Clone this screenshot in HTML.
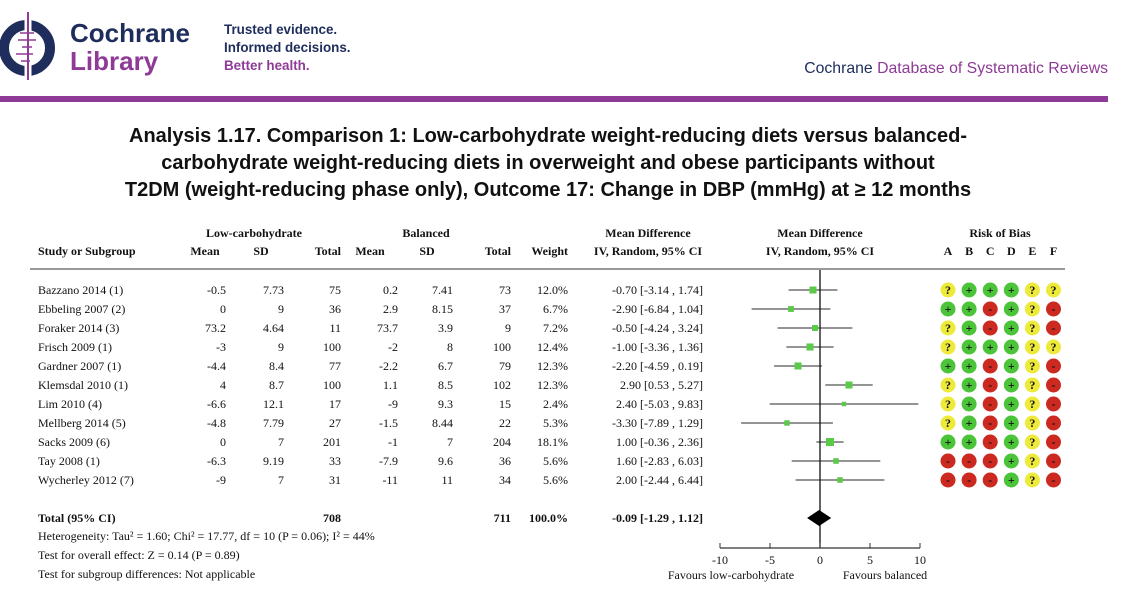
<!DOCTYPE html>
<html><head><meta charset="utf-8"><style>
body{margin:0;background:#fff;width:1125px;height:609px;overflow:hidden}
svg{display:block}
.s{font-family:"Liberation Serif",serif;font-size:12px;fill:#111}
.b{font-weight:bold}
</style></head><body>
<svg width="1125" height="609" viewBox="0 0 1125 609">
<g>
<circle cx="27" cy="48" r="23" fill="none" stroke="#1e2d5c" stroke-width="10"/>
<line x1="28" y1="12" x2="28" y2="80" stroke="#fff" stroke-width="7"/>
<line x1="28" y1="12" x2="28" y2="80" stroke="#8e3a96" stroke-width="2"/>
<g stroke="#8e3a96" stroke-width="1.5"><line x1="20" y1="33" x2="34" y2="33"/><line x1="18" y1="40" x2="36" y2="40"/><line x1="22" y1="47" x2="32" y2="47"/><line x1="16" y1="54" x2="33" y2="54"/><line x1="21" y1="61" x2="30" y2="61"/></g>
<text x="70" y="42" font-family="Liberation Sans,sans-serif" font-size="26" font-weight="bold" fill="#1e2d5c">Cochrane</text>
<text x="70" y="70" font-family="Liberation Sans,sans-serif" font-size="26" font-weight="bold" fill="#8e3a96">Library</text>
</g>
<g font-family="Liberation Sans,sans-serif" font-size="13.4" font-weight="bold">
<text x="224" y="34" fill="#1e2d5c">Trusted evidence.</text>
<text x="224" y="52" fill="#1e2d5c">Informed decisions.</text>
<text x="224" y="70" fill="#8e3a96">Better health.</text>
</g>
<text x="1108" y="73" text-anchor="end" font-family="Liberation Sans,sans-serif" font-size="15.8"><tspan fill="#1e2d5c">Cochrane</tspan><tspan fill="#8e3a96"> Database of Systematic Reviews</tspan></text>
<rect x="0" y="96" width="1108" height="6" fill="#8e3a96"/>
<g font-family="Liberation Sans,sans-serif" font-size="20" font-weight="bold" fill="#111" text-anchor="middle">
<text x="548" y="142">Analysis 1.17.  Comparison 1: Low-carbohydrate weight-reducing diets versus balanced-</text>
<text x="548" y="169">carbohydrate weight-reducing diets in overweight and obese participants without</text>
<text x="548" y="196">T2DM (weight-reducing phase only), Outcome 17: Change in DBP (mmHg) at ≥ 12 months</text>
</g>
<g class="s b">
<text x="254" y="237" text-anchor="middle">Low-carbohydrate</text>
<text x="426" y="237" text-anchor="middle">Balanced</text>
<text x="648" y="237" text-anchor="middle">Mean Difference</text>
<text x="820" y="237" text-anchor="middle">Mean Difference</text>
<text x="1000" y="237" text-anchor="middle">Risk of Bias</text>
<text x="38" y="255">Study or Subgroup</text>
<text x="205" y="255" text-anchor="middle">Mean</text>
<text x="261" y="255" text-anchor="middle">SD</text>
<text x="341" y="255" text-anchor="end">Total</text>
<text x="370" y="255" text-anchor="middle">Mean</text>
<text x="427" y="255" text-anchor="middle">SD</text>
<text x="511" y="255" text-anchor="end">Total</text>
<text x="568" y="255" text-anchor="end">Weight</text>
<text x="648" y="255" text-anchor="middle">IV, Random, 95% CI</text>
<text x="820" y="255" text-anchor="middle">IV, Random, 95% CI</text>
</g>
<line x1="30" y1="269" x2="1065" y2="269" stroke="#999" stroke-width="2"/>
<g id="rows"></g>
<g id="plot"></g>
<g class="s">
<text x="38" y="522" class="b">Total (95% CI)</text>
<text x="341" y="522" text-anchor="end" class="b">708</text>
<text x="511" y="522" text-anchor="end" class="b">711</text>
<text x="568" y="522" text-anchor="end" class="b">100.0%</text>
<text x="703" y="522" text-anchor="end" class="b">-0.09 [-1.29 , 1.12]</text>
<text x="38" y="540">Heterogeneity: Tau² = 1.60; Chi² = 17.77, df = 10 (P = 0.06); I² = 44%</text>
<text x="38" y="559">Test for overall effect: Z = 0.14 (P = 0.89)</text>
<text x="38" y="578">Test for subgroup differences: Not applicable</text>
<text x="731" y="579" text-anchor="middle">Favours low-carbohydrate</text>
<text x="885" y="579" text-anchor="middle">Favours balanced</text>
</g>
<script>
const studies=["Bazzano 2014 (1)","Ebbeling 2007 (2)","Foraker 2014 (3)","Frisch 2009 (1)","Gardner 2007 (1)","Klemsdal 2010 (1)","Lim 2010 (4)","Mellberg 2014 (5)","Sacks 2009 (6)","Tay 2008 (1)","Wycherley 2012 (7)"];
const meanL=["-0.5","0","73.2","-3","-4.4","4","-6.6","-4.8","0","-6.3","-9"];
const sdL=["7.73","9","4.64","9","8.4","8.7","12.1","7.79","7","9.19","7"];
const totL=[75,36,11,100,77,100,17,27,201,33,31];
const meanB=["0.2","2.9","73.7","-2","-2.2","1.1","-9","-1.5","-1","-7.9","-11"];
const sdB=["7.41","8.15","3.9","8","6.7","8.5","9.3","8.44","7","9.6","11"];
const totB=[73,37,9,100,79,102,15,22,204,36,34];
const weights=[12.0,6.7,7.2,12.4,12.3,12.3,2.4,5.3,18.1,5.6,5.6];
const md=[-0.70,-2.90,-0.50,-1.00,-2.20,2.90,2.40,-3.30,1.00,1.60,2.00];
const lo=[-3.14,-6.84,-4.24,-3.36,-4.59,0.53,-5.03,-7.89,-0.36,-2.83,-2.44];
const hi=[1.74,1.04,3.24,1.36,0.19,5.27,9.83,1.29,2.36,6.03,6.44];
const rob=["?+++??","++-+?-","?+-+?-","?+++??","++-+?-","?+-+?-","?+-+?-","?+-+?-","++-+?-","---+?-","---+?-"];
const pooled={md:-0.09,lo:-1.29,hi:1.12};
const ticks=[-10,-5,0,5,10];
const robLetters=["A","B","C","D","E","F"];
const NS="http://www.w3.org/2000/svg";
const X=v=>820+v*10;
const rowY=i=>290+i*19;
const robX=j=>948+j*21.1;
function el(t,a,p){const e=document.createElementNS(NS,t);for(const k in a)e.setAttribute(k,a[k]);p.appendChild(e);return e;}
function tx(x,y,s,anchor,p,cls){const t=el("text",{x:x,y:y,"text-anchor":anchor||"start",class:cls||"s"},p);t.textContent=s;return t;}
const R=document.getElementById("rows"),P=document.getElementById("plot");
robLetters.forEach((L,j)=>{const t=tx(robX(j),255,L,"middle",R,"s b");

});
studies.forEach((s,i)=>{const y=rowY(i)+4;const g=el("g",{},R);


tx(38,y,s,"start",g);tx(226,y,meanL[i],"end",g);tx(284,y,sdL[i],"end",g);tx(341,y,totL[i],"end",g);
tx(398,y,meanB[i],"end",g);tx(453,y,sdB[i],"end",g);tx(511,y,totB[i],"end",g);tx(568,y,weights[i].toFixed(1)+"%","end",g);
tx(703,y,md[i].toFixed(2)+" ["+lo[i].toFixed(2)+" , "+hi[i].toFixed(2)+"]","end",g);
const ci=el("line",{x1:X(lo[i]),x2:X(hi[i]),y1:rowY(i),y2:rowY(i),stroke:"#555","stroke-width":1.3},P);


const sz=2.5+Math.sqrt(weights[i])*1.3;
const b=el("rect",{x:X(md[i])-sz/2,y:rowY(i)-sz/2,width:sz,height:sz,fill:"#5cc94a"},P);


[...rob[i]].forEach((c,j)=>{const col=c=="+"?"#4cc43a":c=="-"?"#cc2a20":"#eeea3a";
const cc=el("circle",{cx:robX(j),cy:rowY(i),r:7.5,fill:col},P);


const t=tx(robX(j),rowY(i)+4,c,"middle",P,"s b");t.setAttribute("font-size","11");});
});
const zl=el("line",{x1:X(0),x2:X(0),y1:270,y2:548,stroke:"#111","stroke-width":1.3},P);


const ax=el("line",{x1:X(ticks[0]),x2:X(ticks[ticks.length-1]),y1:548,y2:548,stroke:"#333","stroke-width":1.3},P);


ticks.forEach(t=>{el("line",{x1:X(t),x2:X(t),y1:543,y2:548,stroke:"#333"},P);
const l=tx(X(t),564,String(t),"middle",P);

});
const d=el("polygon",{points:`${X(pooled.lo)},518 ${X(pooled.md)},510 ${X(pooled.hi)},518 ${X(pooled.md)},526`,fill:"#000"},P);


</script>
</svg>
</body></html>
